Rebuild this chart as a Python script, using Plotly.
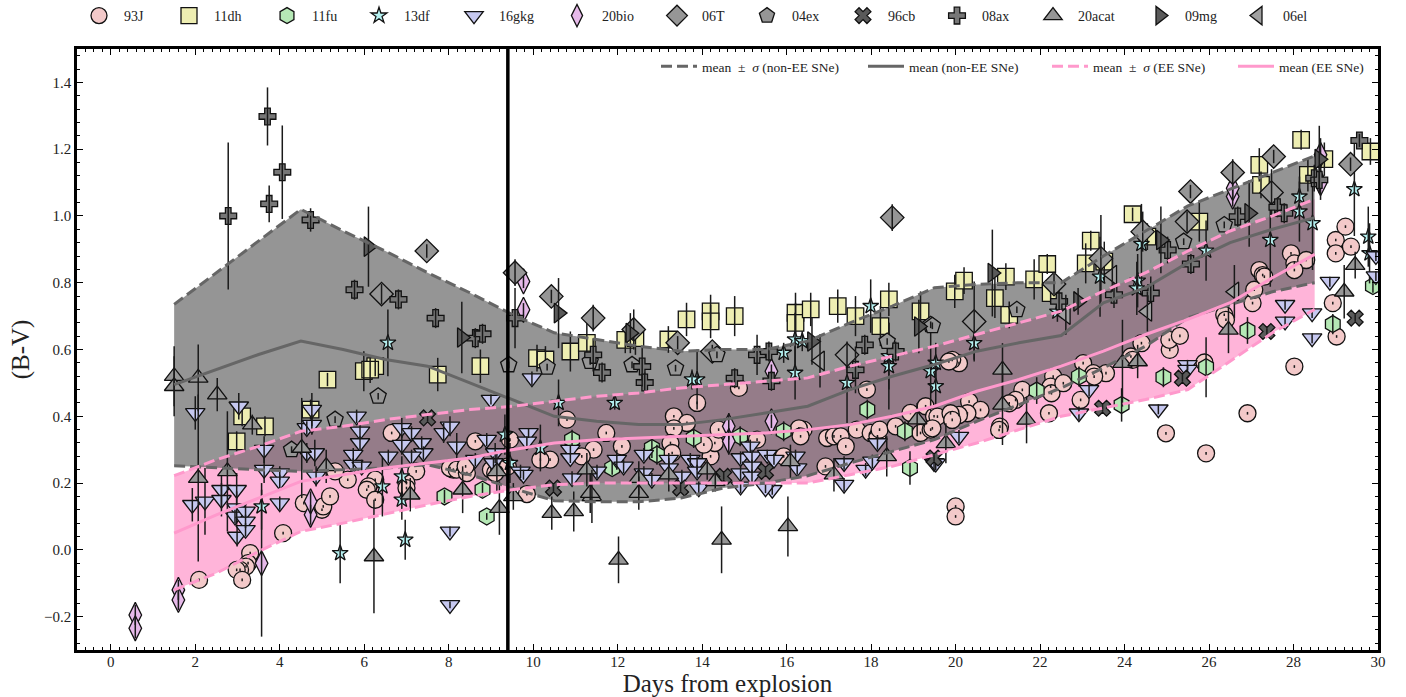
import plotly.graph_objects as go

# (days from explosion, B-V, error)
sn93J = [(2.09,-.09,.004),(3.3,-.01,.004),(3.25,-.04,.004),(3.2,-.05,.004),(3.06,-.06,.004),(2.98,-.06,.004),(3.11,-.09,.004),(4.08,.05,.004),
(4.57,.14,.004),(5.0,.12,.004),(5.03,.13,.004),(5.19,.16,.004),(5.61,.21,.004),(5.31,.235,.004),(6.26,.21,.004),(6.1,.19,.004),(6.06,.18,.004),(6.26,.15,.004),(6.65,.35,.004),(7.23,.235,.004),(7.0,.2,.004),(7.0,.185,.004),
(8.11,.24,.004),(8.03,.245,.004),(8.19,.24,.004),(8.43,.23,.004),(8.4,.25,.004),(8.63,.325,.004),(9.0,.24,.004),(9.4,.25,.004),(9.45,.33,.004),(9.1,.23,.004),
(10.8,.39,.004),(11.73,.35,.004),(11.43,.30,.004),(12.1,.31,.004),(10.4,.27,.004),(10.17,.27,.004),(11.15,.28,.004),(9.85,.167,.004),(13.33,.40,.004),(13.64,.38,.004),(13.33,.364,.004),(13.88,.44,.004),(14.87,.485,.004),(13.25,.32,.004),(13.29,.29,.004),(14.2,.28,.004),(14.3,.32,.004),(14.39,.36,.004),(15.3,.33,.004),(14.04,.315,.004),(15.93,.28,.004),(16.4,.36,.004),(16.29,.364,.004),(16.33,.34,.004),(16.92,.25,.004),(16.96,.335,.004),(17.12,.34,.004),(17.28,.34,.004),(17.4,.31,.004),(17.66,.36,.004),(17.9,.48,.004),(17.99,.35,.004),(18.15,.34,.004),(18.2,.36,.004),(18.58,.37,.004),(18.93,.41,.004),(19.29,.43,.004),(19.17,.35,.004),(19.41,.36,.004),(19.49,.40,.004),
(20.08,.559,.004),(19.92,.569,.004),(19.84,.564,.004),(19.57,.399,.004),(19.45,.364,.004),(20.32,.444,.004),(20.59,.419,.004),(20.28,.409,.004),(20.08,.404,.004),(19.88,.409,.004),(19.92,.389,.004),(21.05,.369,.004),(21.03,.359,.004),(21.58,.479,.004),(21.42,.449,.004),(21.27,.439,.004),(22.21,.409,.004),(22.31,.519,.004),(22.25,.489,.004),(22.27,.469,.004),(22.55,.499,.004),(23.02,.559,.004),(23.56,.529,.004),(23.26,.529,.004),(23.28,.519,.004),(22.96,.449,.004),(24.15,.579,.004),(24.19,.569,.004),(24.4,.619,.004),(25.07,.599,.004),(25.06,.629,.004),(25.31,.641,.004),(24.98,.349,.004),(25.93,.289,.004),(25.89,.561,.004),(26.36,.704,.004),(26.4,.689,.004),(26.91,.409,.004),(27.03,.739,.004),(27.07,.779,.004),(27.19,.838,.004),(27.27,.823,.004),(27.31,.818,.004),(28.02,.549,.004),(27.94,.888,.004),(28.02,.858,.004),(28.3,.868,.004),(28.02,.838,.004),(29.0,.928,.004),(29.0,.888,.004),(29.23,.968,.004),(29.36,.908,.004),(28.93,.739,.004),(29.02,.639,.004),(20.0,.13,.004),(20.0,.10,.004)]

sn11dh = [(2.98,.325,.03),(3.11,.40,.03),(3.65,.37,.03),(4.73,.42,.03),(5.13,.51,.02),(5.99,.535,.06),(6.26,.55,.03),(6.14,.54,.04),(7.74,.525,.05),(8.75,.55,.05),
(10.09,.574,.04),(10.29,.57,.04),(10.88,.594,.06),(11.27,.62,.06),(12.18,.629,.04),(12.42,.634,.05),(13.2,.63,.04),(13.63,.69,.05),(14.2,.714,.05),(14.2,.684,.05),(14.77,.70,.06),(16.21,.71,.06),(16.21,.68,.06),(16.57,.72,.05),(17.21,.73,.05),(17.63,.70,.06),(18.22,.67,.06),(18.42,.75,.05),(19.17,.714,.06),
(19.98,.774,.05),(20.2,.806,.04),(21.19,.818,.04),(20.93,.754,.06),(21.27,.704,.04),(21.86,.81,.06),(22.17,.856,.03),(23.08,.858,.06),(23.2,.926,.03),(23.52,.863,.06),(22.25,.769,.03),(24.19,1.005,.02),(24.54,.938,.04),(25.77,.983,.06),(27.19,1.153,.05),(27.23,1.093,.04),(28.34,1.123,.05),(28.18,1.228,.03),(28.73,1.17,.05),(29.82,1.193,.04)]

sn11fu = [(7.9,.16,.02),(8.8,.18,.02),(8.9,.10,.01),(10.92,.33,.03),(11.87,.245,.02),(12.81,.305,.03),(12.93,.285,.03),(13.8,.335,.03),(14.9,.34,.03),(15.93,.355,.03),(17.91,.42,.03),(18.8,.355,.03),(18.92,.245,.05),(21.92,.477,.04),(22.92,.519,.03),(23.93,.434,.05),(24.92,.517,.03),(25.93,.547,.09),(26.91,.657,.04),(28.93,.676,.03),(29.88,.79,.02)]

sn13df = [(3.57,.13,.07),(5.43,-.01,.09),(6.97,.03,.06),(6.43,.19,.09),(6.89,.22,.06),(6.89,.15,.06),(6.56,.62,.1),(9.33,.345,.06),(9.45,.26,.06),(10.17,.305,.07),(10.6,.44,.07),(11.93,.44,.02),(13.88,.51,.09),(13.76,.51,.03),(15.93,.59,.03),(16.2,.63,.08),(16.37,.625,.03),(16.2,.53,.08),(17.99,.73,.08),(18.42,.55,.13),(17.43,.50,.12),(18.42,.58,.1),(19.41,.535,.12),(19.53,.56,.06),(19.53,.49,.06),(20.44,.619,.05),(23.42,.818,.12),(24.31,.806,.08),(24.29,.783,.08),(22.41,.713,.03),(24.4,.916,.12),(25.93,.896,.09),(27.45,.928,.14),(28.14,1.013,.09),(28.14,1.058,.06),(28.45,.978,.14),(29.44,1.08,.14),(29.77,.938,.09),(29.8,.888,.09)]

sn16gkg = [(2.0,.41,.05),(3.03,.43,.04),(1.93,.135,.05),(2.23,.145,.1),(2.62,.18,.05),(2.62,.15,.05),(2.98,.18,.05),(2.98,.125,.05),(2.94,.1,.02),(2.99,.04,.03),(3.19,.115,.02),(3.19,.085,.02),(3.19,.06,.02),(3.63,.3,.04),(3.63,.24,.04),(4.0,.23,.02),(4.0,.205,.02),(4.0,.14,.02),(4.64,.365,.02),(4.76,.42,.05),(4.76,.375,.03),(4.64,.29,.03),(4.83,.29,.04),(4.86,.22,.03),(5.82,.4,.02),(5.9,.355,.02),(5.9,.32,.02),(5.74,.285,.02),(5.74,.255,.02),(5.94,.25,.02),(6.57,.28,.02),(6.89,.365,.03),(6.89,.315,.03),(7.12,.35,.02),(7.36,.32,.02),(7.4,.29,.02),(7.12,.28,.02),(7.88,.35,.03),(8.03,.37,.03),(8.19,.31,.04),(8.03,.055,.015),(8.03,-.165,.01),(8.63,.27,.02),(8.9,.33,.02),(9.1,.29,.03),(9.0,.45,.015),(9.06,.26,.02),(9.7,.235,.02),
(9.97,.514,.02),(9.89,.35,.015),(9.85,.325,.015),(9.77,.225,.015),(10.88,.30,.015),(10.88,.275,.015),(10.92,.215,.02),(11.51,.235,.02),(11.98,.27,.03),(12.14,.25,.02),(12.62,.285,.02),(12.62,.23,.02),(12.81,.21,.02),(13.21,.27,.02),(13.21,.245,.02),(13.52,.22,.02),(13.72,.27,.02),(13.88,.26,.02),(13.88,.235,.02),(13.92,.185,.02),(14.91,.275,.02),(14.91,.23,.02),(14.91,.19,.02),(15.14,.31,.02),(15.18,.28,.02),(15.18,.25,.02),(15.18,.22,.02),(15.54,.285,.015),(15.7,.27,.015),(15.66,.18,.015),(15.5,.185,.015),(16.21,.28,.02),(16.25,.245,.02),(17.36,.26,.02),(17.36,.195,.02),(17.87,.24,.02),(18.15,.32,.02),(18.03,.265,.02),(19.49,.26,.02),
(20.08,.339,.02),(19.53,.259,.02),(22.92,.409,.02),(23.16,.479,.02),(24.8,.421,.015),(25.49,.554,.015),(25.49,.54,.015),(27.8,.734,.015),(27.8,.684,.015),(28.44,.634,.015),(28.44,.709,.015),(28.86,.803,.015),(29.95,.82,.015),(29.95,.88,.015)]

sn20bio = [(.58,-.195,.03),(.58,-.235,.03),(1.6,-.12,.03),(1.6,-.15,.03),(3.57,-.04,.22),(4.73,.105,.03),(4.73,.145,.03),(9.77,.804,.02),(9.77,.719,.02),(14.63,.37,.04),(14.63,.325,.04),(15.64,.385,.02),(15.64,.535,.02),(26.56,1.058,.03),(26.56,1.083,.03),(28.64,1.183,.05),(28.64,1.098,.05)]

sn06T = [(6.41,.766,.03),(7.48,.895,.02),(9.57,.83,.04),(10.43,.759,.02),(11.42,.694,.04),(12.38,.66,.06),(13.42,.62,.02),(14.24,.594,.02),(17.43,.584,.04),(18.5,.995,.04),(20.44,.684,.12),(22.33,.796,.03),(23.44,.873,.13),(24.43,.953,.06),(25.56,1.073,.02),(25.48,.983,.03),(26.56,1.13,.04),(27.53,1.178,.02),(27.48,1.07,.07),(29.35,1.155,.02)]

sn04ex = [(4.28,.30,.01),(5.31,.39,.01),(6.33,.46,.01),(9.42,.554,.01),(10.33,.547,.01),(11.35,.564,.01),(12.34,.554,.01),(13.37,.544,.01),(14.35,.584,.01),(18.38,.624,.01),(19.41,.674,.01),(19.45,.671,.01),(21.45,.719,.01),(25.4,.923,.01),(26.36,.973,.01)]

sn96cb = [(7.5,.395,.01),(10.48,.185,.01),(13.49,.185,.01),(14.51,.22,.01),(15.5,.235,.01),(19.49,.275,.01),(23.48,.424,.01),(25.37,.514,.01),(27.37,.654,.01),(29.46,.694,.01)]

sn08ax = [(2.78,1.0,.22),(3.71,1.298,.087),(3.75,1.036,.055),(4.06,1.131,.14),(4.73,.988,.035),(5.77,.779,.03),(6.81,.75,.03),(7.69,.694,.03),(8.63,.634,.03),(8.8,.647,.03),(9.57,.694,.09),(11.42,.584,.05),(11.63,.531,.03),(12.58,.549,.06),(12.64,.501,.03),(14.77,.514,.03),(15.3,.584,.06),(15.58,.594,.03),(15.64,.506,.03),(17.85,.614,.03),(17.63,.539,.07),(18.58,.594,.03),(22.45,.744,.03),(23.75,.764,.04),(24.62,.769,.05),(25.02,.898,.04),(25.57,.856,.03),(26.68,.998,.03),(27.62,1.026,.03),(27.78,1.008,.03),(28.49,1.113,.04),(28.61,1.108,.04),(29.56,1.226,.02)]

sn20acat = [(1.5,.52,.09),(1.5,.49,.09),(2.07,.515,.1),(2.07,.215,.25),(2.52,.465,.05),(2.76,.235,.18),(3.35,.375,.03),(4.52,.305,.15),(5.1,.25,.05),(6.23,-.02,.17),(7.09,.165,.05),(8.33,.18,.07),(9.14,.235,.06),(9.2,.125,.08),(9.53,.16,.04),(10.44,.11,.05),(10.96,.115,.06),(11.39,.16,.08),(11.35,.17,.06),(11.27,.24,.05),(12.02,-.03,.07),(12.5,.17,.05),(12.5,.215,.05),(13.21,.225,.05),(14.12,.24,.03),(14.31,.205,.03),(14.46,.03,.1),(16.03,.07,.09),(16.09,.265,.05),(17.12,.225,.05),(18.37,.28,.06),(19.09,.39,.05),(19.77,.319,.06),(21.11,.539,.08),(21.11,.434,.12),(21.68,.389,.07),(23.95,.559,.13),(24.31,.564,.05),(26.46,.659,.07),(29.2,.773,.08),(29.46,.853,.04)]

sn09mg = [(6.1,.908,.12),(8.31,.636,.107),(10.6,.709,.105),(12.3,.649,.06),(16.6,.624,.07),(19.13,.669,.08),(20.87,.829,.13),(22.9,.744,.04),(24.86,.928,.1),(26.95,1.008,.1),(28.61,1.17,.1)]

sn06el = [(16.79,.566,.08),(22.61,.704,.06),(23.71,.823,.05),(24.54,.714,.06),(26.6,.773,.08)]

names = ["93J","11dh","11fu","13df","16gkg","20bio","06T","04ex","96cb","08ax","20acat","09mg","06el"]
series = [sn93J,sn11dh,sn11fu,sn13df,sn16gkg,sn20bio,sn06T,sn04ex,sn96cb,sn08ax,sn20acat,sn09mg,sn06el]
symbols = ["circle","square","hexagon","star","triangle-down","diamond-tall","diamond","pentagon","x","cross","triangle-up","triangle-right","triangle-left"]
colors = ["#f3c9c9","#eeeeb2","#b5e8b5","#b5f0f0","#c6c8f0","#e6b9e9","#969696","#969696","#5a5a5a","#777777","#969696","#5a5a5a","#a0a0a0"]
sizes = [17,16.5,17,12,17,18,18,17,14,14,17,17,17]

bin_days = [1.5,2.5,3.5,4.5,5.5,6.5,7.5,8.5,9.5,10.5,11.5,12.5,13.5,14.5,15.5,16.5,17.5,18.5,19.5,20.5,21.5,22.5,23.5,24.5,25.5,26.5,27.5,28.5]
non_ee_upper = [.735,.83,.925,1.02,.955,.895,.83,.77,.705,.65,.63,.61,.595,.60,.60,.625,.68,.73,.785,.795,.80,.80,.88,.955,1.03,1.08,1.13,1.18]
non_ee_mean = [.495,.54,.585,.625,.60,.57,.55,.50,.45,.40,.385,.375,.375,.39,.41,.43,.48,.52,.555,.595,.62,.642,.74,.785,.86,.92,.96,.995]
non_ee_lower = [.252,.245,.24,.235,.24,.245,.255,.225,.185,.147,.144,.144,.155,.185,.2,.222,.26,.295,.33,.385,.435,.485,.545,.61,.695,.735,.773,.80]
ee_upper = [.222,.27,.31,.355,.37,.39,.405,.42,.43,.445,.46,.47,.485,.495,.505,.515,.55,.58,.61,.645,.68,.715,.775,.83,.895,.955,1.0,1.05]
ee_mean = [.05,.105,.155,.205,.225,.245,.26,.275,.30,.32,.33,.335,.34,.345,.35,.36,.375,.40,.43,.475,.51,.55,.595,.645,.69,.74,.815,.885]
ee_lower = [-.12,-.07,-.005,.055,.08,.108,.135,.16,.18,.195,.20,.20,.20,.20,.20,.2,.225,.25,.285,.32,.36,.40,.425,.45,.48,.565,.65,.72]
ebv_line = [9.4]

W, H = 1406, 697
SERIF = "Liberation Serif"
marker_key_left = [74,164,262,354,449,552,652,742,838,932,1028,1135,1233]
line_key_left = [656,863,1047,1233]

fig = go.Figure()
legends = {}

def band(lower, upper, fillcolor):
    fig.add_trace(go.Scatter(x=bin_days, y=lower, mode="lines", line=dict(width=0), showlegend=False, hoverinfo="skip"))
    fig.add_trace(go.Scatter(x=bin_days, y=upper, mode="lines", line=dict(width=0), fill="tonexty", fillcolor=fillcolor, showlegend=False, hoverinfo="skip"))

band(ee_lower, ee_upper, "rgba(255,105,180,0.5)")
band(non_ee_lower, non_ee_upper, "rgba(97,97,97,0.67)")

for i, (name, data, sym, col, sz) in enumerate(zip(names, series, symbols, colors, sizes)):
    xs = [p[0] for p in data]
    ys = [p[1] for p in data]
    es = [p[2] for p in data]
    key = "legend" if i == 0 else f"legend{i+1}"
    legends[key] = dict(orientation="h", x=marker_key_left[i]/W, y=1.0, xref="container", yref="container",
                        xanchor="left", yanchor="top", bgcolor="rgba(0,0,0,0)",
                        font=dict(family=SERIF, size=14, color="#222222"), itemwidth=40, itemsizing="trace",
                        itemclick=False, itemdoubleclick=False)
    fig.add_trace(go.Scatter(x=xs, y=ys, mode="markers", name=name, legend=key,
                             marker=dict(symbol=sym, size=sz, color=col, line=dict(color="#111111", width=1.3))))
    fig.add_trace(go.Scatter(x=xs, y=ys, mode="markers", showlegend=False, hoverinfo="skip",
                             marker=dict(size=1, opacity=0),
                             error_y=dict(type="data", array=es, visible=True, color="#1a1a1a", thickness=1.5, width=0)))

DASH = "11px,5px"
def curve(y, color, dash, label, j):
    key = f"legend{14+j}"
    legends[key] = dict(orientation="h", x=line_key_left[j]/W, y=1-51/H, xref="container", yref="container",
                        xanchor="left", yanchor="top", bgcolor="rgba(0,0,0,0)",
                        font=dict(family=SERIF, size=13.5, color="#222222"), itemwidth=36,
                        itemclick=False, itemdoubleclick=False)
    fig.add_trace(go.Scatter(x=bin_days, y=y, mode="lines", name=label, legend=key,
                             line=dict(color=color, width=3, dash=dash)))

curve(non_ee_upper, "#666666", DASH, "mean\u2002±\u2002<i>σ</i> (non-EE SNe)", 0)
fig.add_trace(go.Scatter(x=bin_days, y=non_ee_lower, mode="lines", showlegend=False, line=dict(color="#666666", width=3, dash=DASH)))
curve(non_ee_mean, "#666666", "solid", "mean (non-EE SNe)", 1)
curve(ee_upper, "#ff99cc", DASH, "mean\u2002±\u2002<i>σ</i> (EE SNe)", 2)
fig.add_trace(go.Scatter(x=bin_days, y=ee_lower, mode="lines", showlegend=False, line=dict(color="#ff99cc", width=3, dash=DASH)))
curve(ee_mean, "#ff99cc", "solid", "mean (EE SNe)", 3)

fig.add_trace(go.Scatter(x=ebv_line*2, y=[-.3,1.5], mode="lines", showlegend=False, line=dict(color="black", width=3.5)))

axis = dict(showgrid=False, zeroline=False, showline=True, linecolor="black", linewidth=2.5, mirror="ticks",
            ticks="inside", ticklen=6, tickwidth=1.3, tickcolor="black",
            tickfont=dict(family=SERIF, size=15, color="#222222"))
fig.update_xaxes(range=[-0.8,30], tick0=0, dtick=2, ticklabelstandoff=-4,
                 title=dict(text="Days from explosion", font=dict(family=SERIF, size=25, color="#222222"), standoff=4),
                 minor=dict(dtick=.2, tick0=0, ticks="inside", ticklen=3, tickwidth=1, tickcolor="black"), **axis)
fig.update_yaxes(range=[-.3,1.5], tick0=-.2, dtick=.2, tickvals=[-.2,0,.2,.4,.6,.8,1.0,1.2,1.4],
                 ticktext=["−0.2","0.0","0.2","0.4","0.6","0.8","1.0","1.2","1.4"],
                 title=dict(text="(B-V)", font=dict(family=SERIF, size=25, color="#222222"), standoff=8),
                 minor=dict(dtick=.04, tick0=0, ticks="inside", ticklen=3, tickwidth=1, tickcolor="black"), **axis)

fig.update_layout(
    width=W, height=H, autosize=False, plot_bgcolor="white", paper_bgcolor="white",
    margin=dict(l=77, r=28, t=49, b=47, autoexpand=False),
    font=dict(family=SERIF),
    **legends,
)
fig.write_html("out.html", post_script="document.body.style.margin='0';", config=dict(displayModeBar=False))
